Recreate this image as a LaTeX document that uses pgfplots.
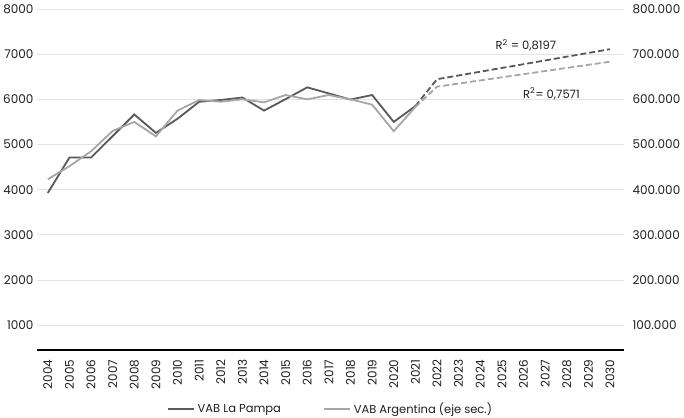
\documentclass[border=0pt]{standalone}
\usepackage{pgfplots}
\pgfplotsset{compat=1.18}
\usepackage{fontspec}
\setmainfont{Poppins}
\definecolor{darkl}{HTML}{595959}
\definecolor{lightl}{HTML}{A6A6A6}
\definecolor{gridc}{HTML}{E3E3E3}
\definecolor{txt}{HTML}{1F1F1F}
\pgfplotsset{
  base/.style={
    at={(37pt,67pt)}, anchor=south west, scale only axis,
    width=587pt, height=341pt,
    xmin=2003.5, xmax=2030.65,
    font=\fontsize{12}{14}\selectfont,
    /pgf/number format/assume math mode=true,
    tick style={draw=none},
    ticklabel style={text=txt},
    axis line style={-},
  }
}
\begin{document}
\begin{tikzpicture}
\useasboundingbox (0,0) rectangle (684pt,417pt);
\begin{axis}[base,
  ymin=450, ymax=8000, ytick={1000,2000,...,8000},
  axis x line*=bottom, axis y line*=left,
  y axis line style={draw=none},
  x axis line style={black, line width=1.3pt},
  yticklabel style={/pgf/number format/1000 sep={}},
  ymajorgrids, grid style={gridc, line width=0.8pt},
  xtick={2004,2005,...,2030},
  xticklabel style={rotate=90, anchor=east, /pgf/number format/1000 sep={}},
  xticklabel shift=6pt,
  yticklabel shift=0pt,
]
\addplot[darkl, line width=1.8pt] coordinates {
(2004,3927) (2005,4712) (2006,4712) (2007,5186) (2008,5665) (2009,5257)
(2010,5570) (2011,5945) (2012,5985) (2013,6040) (2014,5750) (2015,6005)
(2016,6265) (2017,6130) (2018,5995) (2019,6095) (2020,5500) (2021,5850)
};
\addplot[darkl, line width=1.8pt, dash pattern=on 6pt off 3pt] coordinates {
(2021,5850) (2022,6445) (2030,7110)
};
\node[anchor=west, inner sep=0pt, font=\fontsize{11.5}{13}\selectfont, text=txt] at (axis cs:2024.7,7200) {R\textsuperscript{2} = 0,8197};
\node[anchor=west, inner sep=0pt, font=\fontsize{11.5}{13}\selectfont, text=txt] at (axis cs:2025.98,6118) {R\textsuperscript{2}= 0,7571};
\end{axis}
\begin{axis}[base,
  ymin=45000, ymax=800000, ytick={100000,200000,...,800000},
  axis x line=none, axis y line*=right,
  y axis line style={draw=none},
  scaled y ticks=false,
  yticklabel style={/pgf/number format/.cd, fixed, 1000 sep={.}},
  yticklabel shift=5pt,
  legend columns=2,
  legend style={draw=none, fill=none, at={(0.5,0)}, anchor=center, yshift=-59pt,
    font=\fontsize{11.5}{13}\selectfont, text=txt,
    /tikz/every odd column/.append style={column sep=1pt},
    /tikz/every even column/.append style={column sep=40pt}},
  legend image code/.code={\draw[#1] (0pt,0pt) -- (26pt,0pt);},
]
\addlegendimage{darkl, line width=1.8pt}
\addlegendentry{VAB La Pampa}
\addplot[lightl, line width=1.8pt] coordinates {
(2004,423000) (2005,452000) (2006,485000) (2007,530000) (2008,550000) (2009,518000)
(2010,575000) (2011,598500) (2012,594700) (2013,600000) (2014,593400) (2015,609500)
(2016,600000) (2017,609500) (2018,600000) (2019,588200) (2020,529400) (2021,583000)
};
\addlegendentry{VAB Argentina (eje sec.)}
\addplot[lightl, line width=1.8pt, dash pattern=on 6pt off 3pt, forget plot] coordinates {
(2021,583000) (2022,628000) (2030,683300)
};
\end{axis}
\end{tikzpicture}
\end{document}
